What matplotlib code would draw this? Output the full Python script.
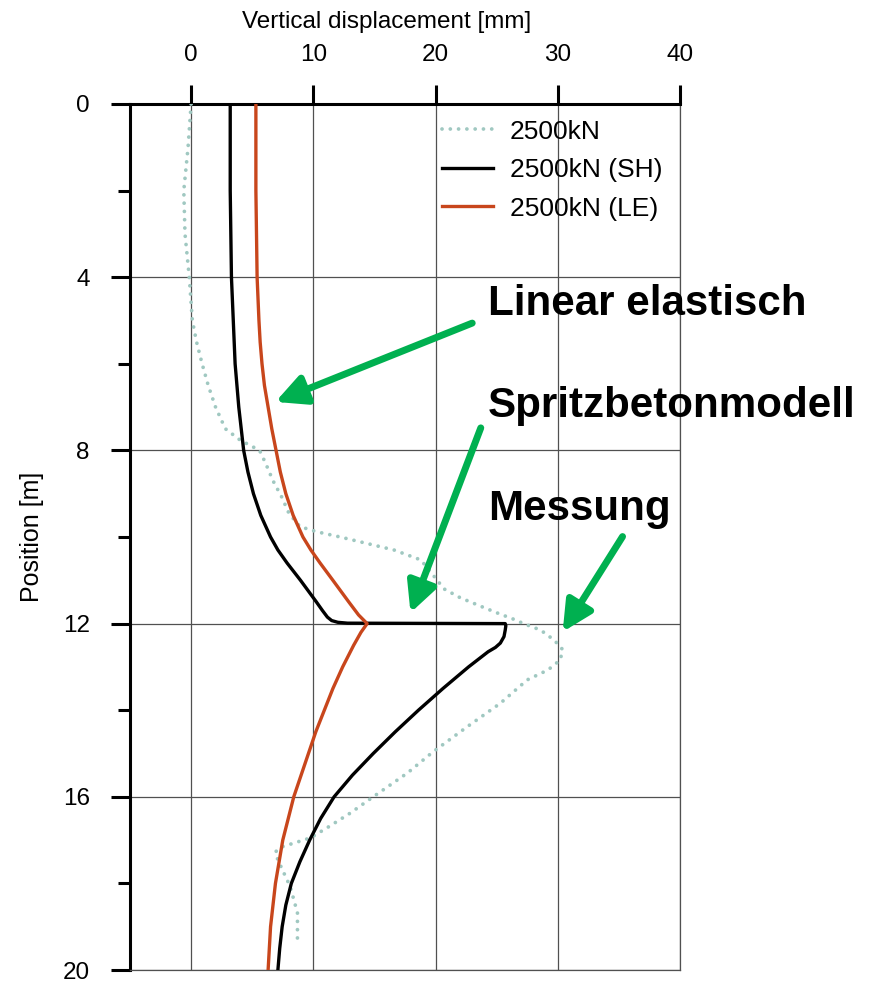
import numpy as np
import matplotlib
matplotlib.use("Agg")
import matplotlib.pyplot as plt
from matplotlib.ticker import MultipleLocator

plt.rcParams['font.family'] = ['Liberation Sans', 'DejaVu Sans']

# measured profile (2500kN)
meas_x = [0.0, -0.25, -0.6, -0.5, -0.15, 0.1, 0.45, 0.9, 1.4, 2.0, 2.8, 4.0, 5.6, 6.1, 6.7,
          7.4, 8.0, 8.9, 10.3, 12.2, 14.4, 16.6, 18.8, 19.8, 20.7, 22.0, 23.7, 25.1, 26.4,
          27.2, 28.6, 29.7, 30.4, 30.2, 29.2, 27.5, 25.3, 22.6, 19.8, 17.7, 14.9, 13.0,
          11.1, 9.75, 7.5, 6.9, 7.1, 8.1, 8.7, 8.7]
meas_y = [0.0, 1.0, 2.0, 3.0, 4.0, 5.0, 5.5, 6.0, 6.5, 7.0, 7.5, 7.76, 8.0, 8.3, 8.7,
          9.07, 9.45, 9.76, 9.88, 10.0, 10.15, 10.3, 10.53, 10.88, 11.2, 11.4, 11.6, 11.76, 11.9,
          12.0, 12.15, 12.38, 12.6, 12.84, 13.07, 13.3, 13.84, 14.38, 14.96, 15.45, 16.0, 16.38,
          16.72, 16.95, 17.15, 17.27, 17.46, 18.07, 18.68, 19.38]

# shotcrete model (SH)
sh_x = [3.2, 3.2, 3.3, 3.45, 3.6, 3.75, 3.9, 4.1, 4.3, 4.65, 5.1, 5.7, 6.5, 7.1, 7.85, 8.4,
        8.95, 9.6, 10.25, 10.75, 11.15, 11.5, 12.0, 12.8, 25.7, 25.75, 25.7, 25.6, 25.3, 24.9,
        24.3, 22.7, 20.6, 18.6, 16.7, 14.9, 13.2, 11.7, 10.6, 9.7, 8.9, 8.2, 7.75, 7.45,
        7.25, 7.1]
sh_y = [0.0, 2.0, 4.0, 5.0, 6.0, 6.5, 7.0, 7.5, 8.0, 8.5, 9.0, 9.5, 10.0, 10.3, 10.6, 10.8,
        11.0, 11.25, 11.5, 11.7, 11.85, 11.93, 11.97, 11.99, 12.0, 12.05, 12.15, 12.3, 12.45, 12.55,
        12.65, 13.0, 13.5, 14.0, 14.5, 15.0, 15.5, 16.0, 16.5, 17.0, 17.5, 18.0, 18.5, 19.0,
        19.5, 20.0]

# linear elastic model (LE)
le_x = [5.3, 5.3, 5.4, 5.55, 5.65, 5.8, 6.0, 6.3, 6.6, 6.95, 7.3, 7.75, 8.35, 9.15, 9.8,
        10.55, 11.6, 12.9, 13.7, 14.4, 13.9, 13.3, 12.4, 11.6, 10.9, 10.2, 9.6, 9.0, 8.4,
        7.95, 7.5, 7.2, 6.9, 6.7, 6.5, 6.4, 6.3]
le_y = [0.0, 2.0, 4.0, 5.0, 5.5, 6.0, 6.5, 7.0, 7.5, 8.0, 8.5, 9.0, 9.5, 10.0, 10.3,
        10.6, 11.0, 11.5, 11.8, 12.0, 12.2, 12.5, 13.0, 13.5, 14.0, 14.5, 15.0, 15.5, 16.0,
        16.5, 17.0, 17.5, 18.0, 18.5, 19.0, 19.5, 20.0]

labels = ['2500kN', '2500kN (SH)', '2500kN (LE)']
notes = ['Linear elastisch', 'Spritzbetonmodell', 'Messung']
note_pos = [(24.3, 4.87), (24.3, 7.23), (24.3, 9.61)]
arrow_tail = [(23.0, 5.06), (23.7, 7.48), (35.3, 9.99)]
arrow_tip = [(6.9, 6.88), (17.95, 11.75), (30.4, 12.19)]

fig = plt.figure(figsize=(8.7, 9.85), dpi=100)
ax = fig.add_axes([130/870, 15/985, 550/870, 866/985])

ax.plot(meas_x, meas_y, color='#a0c8c1', lw=2.7, ls=(0, (0.01, 2.2)),
        dash_capstyle='round', label=labels[0], zorder=3)
ax.plot(sh_x, sh_y, color='black', lw=2.4, label=labels[1], zorder=3)
ax.plot(le_x, le_y, color='#c8461c', lw=2.4, label=labels[2], zorder=3)

ax.set_xlim(-5, 40)
ax.set_ylim(20, 0)
ax.xaxis.tick_top()
ax.xaxis.set_label_position('top')
ax.set_xticks([0, 10, 20, 30, 40])
ax.yaxis.set_major_locator(MultipleLocator(4))
ax.yaxis.set_minor_locator(MultipleLocator(2))
ax.grid(True, which='major', color='#505050', lw=0.9)

ax.tick_params(axis='both', which='major', length=14, width=2.2, labelsize=17.5)
ax.tick_params(axis='x', which='major', pad=13.5)
ax.tick_params(axis='y', which='major', pad=15)
ax.tick_params(axis='y', which='minor', length=8.5, width=2.2)

for s in ['left', 'top']:
    ax.spines[s].set_linewidth(2.2)
for s in ['right', 'bottom']:
    ax.spines[s].set_linewidth(0.9)
    ax.spines[s].set_color('#505050')

ax.set_xlabel('Vertical displacement [mm]', fontsize=17.5)
ax.xaxis.label.set_va('center')
ax.xaxis.set_label_coords(0.467, 1.095)
ax.set_ylabel('Position [m]', fontsize=18)
ax.yaxis.label.set_va('center')
ax.yaxis.set_label_coords(-0.178, 0.5)

ax.legend(loc='upper left', bbox_to_anchor=(0.567, 0.982), frameon=False, fontsize=19,
          handlelength=1.93, handletextpad=0.64, labelspacing=0.55, borderpad=0,
          borderaxespad=0)

for txt, (tx, ty) in zip(notes, note_pos):
    ax.text(tx, ty, txt, fontsize=30.3, fontweight='bold', va='baseline', zorder=5)

for tail, tip in zip(arrow_tail, arrow_tip):
    ax.annotate('', xy=tip, xytext=tail,
                arrowprops=dict(arrowstyle='-|>,head_length=0.9,head_width=0.45',
                                color='#00b050', lw=5, mutation_scale=20,
                                shrinkA=0, shrinkB=0), zorder=6)

fig.savefig('out.png', dpi=100)
